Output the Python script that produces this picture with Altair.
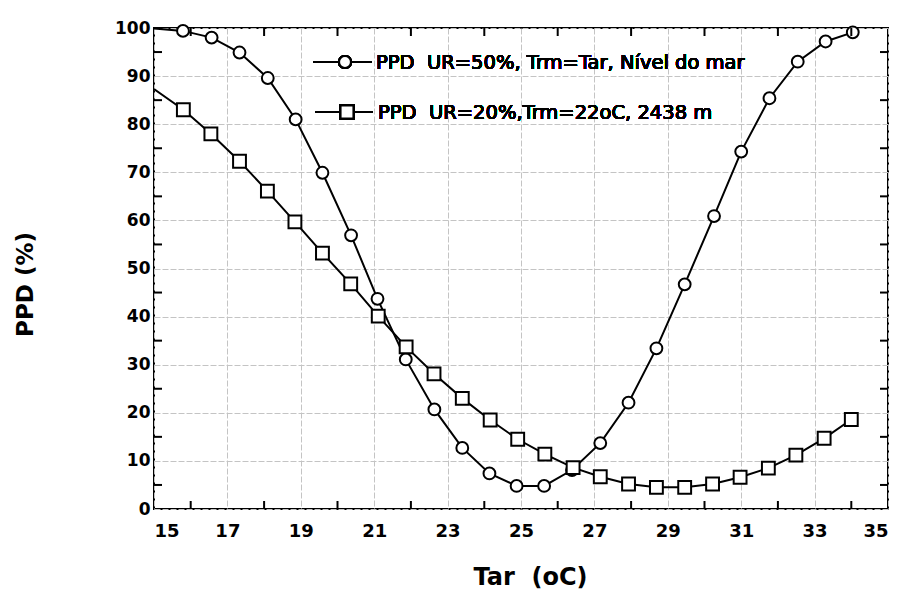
import altair as alt
import pandas as pd

# --- data ---
circ_x = [15.0, 15.79, 16.57, 17.33, 18.10, 18.86, 19.59, 20.37, 21.09, 21.86, 22.64, 23.40, 24.14,
          24.88, 25.63, 26.39, 27.16, 27.93, 28.69, 29.46, 30.26, 31.00, 31.77, 32.54, 33.30, 34.04]
circ_y = [99.9, 99.4, 98.0, 94.9, 89.6, 81.0, 69.9, 56.9, 43.7, 31.1, 20.7, 12.7, 7.4,
          4.8, 4.8, 8.1, 13.7, 22.1, 33.4, 46.7, 60.9, 74.3, 85.4, 93.0, 97.2, 99.1]
circ_marker = [False] + [True] * 25

sq_x = [15.0, 15.80, 16.55, 17.33, 18.09, 18.84, 19.59, 20.36, 21.11, 21.87, 22.63, 23.40, 24.16,
        24.91, 25.65, 26.42, 27.16, 27.93, 28.69, 29.46, 30.22, 30.97, 31.74, 32.49, 33.26, 34.00]
sq_y = [87.3, 83.0, 78.0, 72.3, 66.1, 59.7, 53.2, 46.8, 40.1, 33.7, 28.1, 23.0, 18.5,
        14.5, 11.4, 8.6, 6.7, 5.2, 4.5, 4.5, 5.2, 6.6, 8.5, 11.2, 14.7, 18.6]
sq_marker = [False] + [True] * 25

legend_labels = ["PPD\u00a0\u00a0UR=50%, Trm=Tar, Nível do mar",
                 "PPD\u00a0\u00a0UR=20%,Trm=22oC, 2438 m"]

x_major = [15, 17, 19, 21, 23, 25, 27, 29, 31, 33, 35]
x_minor = [16, 18, 20, 22, 24, 26, 28, 30, 32, 34]
y_major = [0, 10, 20, 30, 40, 50, 60, 70, 80, 90, 100]
y_minor = [5, 15, 25, 35, 45, 55, 65, 75, 85, 95]

W, H = 734, 481

circ = pd.DataFrame({"x": circ_x, "y": circ_y, "m": circ_marker})
sq = pd.DataFrame({"x": sq_x, "y": sq_y, "m": sq_marker})
xm = pd.DataFrame({"x": x_minor})
ym = pd.DataFrame({"y": y_minor})

xs = alt.Scale(domain=[15, 35], nice=False, zero=False)
ys = alt.Scale(domain=[0, 100], nice=False)

GRID = "#c4c4c4"

xaxis = alt.Axis(values=x_major, grid=True, ticks=False, domain=False,
                 labelFont="DejaVu Sans", labelFontWeight="bold", labelFontSize=18,
                 labelPadding=13, labelColor="black",
                 title="Tar\u00a0 (oC)", titleFont="DejaVu Sans", titleFontWeight="bold",
                 titleFontSize=24, titleColor="black", titleX=376, titleY=68,
                 titleBaseline="middle", titleAlign="center",
                 gridColor=GRID, gridWidth=1, gridDash=[6, 2])
yaxis = alt.Axis(values=y_major, grid=True, ticks=False, domain=False,
                 labelFont="DejaVu Sans", labelFontWeight="bold", labelFontSize=17,
                 labelPadding=4, labelColor="black",
                 title="PPD\u00a0(%)", titleFont="DejaVu Sans", titleFontWeight="bold",
                 titleFontSize=23, titleColor="black", titleX=-129, titleY=256,
                 titleBaseline="middle", titleAlign="center", titleAngle=270,
                 gridColor=GRID, gridWidth=1, gridDash=[6, 2])

base_c = alt.Chart(circ)
base_s = alt.Chart(sq)

line_c = base_c.mark_line(color="black", strokeWidth=2, clip=True).encode(
    x=alt.X("x:Q", scale=xs, axis=xaxis), y=alt.Y("y:Q", scale=ys, axis=yaxis))
pts_c = base_c.transform_filter("datum.m").mark_point(
    shape="circle", size=140, filled=True, fill="white", stroke="black", strokeWidth=2, opacity=1
).encode(x=alt.X("x:Q", scale=xs), y=alt.Y("y:Q", scale=ys))
line_s = base_s.mark_line(color="black", strokeWidth=2, clip=True).encode(
    x=alt.X("x:Q", scale=xs), y=alt.Y("y:Q", scale=ys))
pts_s = base_s.transform_filter("datum.m").mark_point(
    shape="square", size=165, filled=True, fill="white", stroke="black", strokeWidth=2, opacity=1
).encode(x=alt.X("x:Q", scale=xs), y=alt.Y("y:Q", scale=ys))

# inward minor ticks on all four sides
tk_b = alt.Chart(xm).mark_rule(color="black", strokeWidth=2).encode(
    x=alt.X("x:Q", scale=xs), y=alt.value(H), y2=alt.value(H - 8))
tk_t = alt.Chart(xm).mark_rule(color="black", strokeWidth=2).encode(
    x=alt.X("x:Q", scale=xs), y=alt.value(0), y2=alt.value(8))
tk_l = alt.Chart(ym).mark_rule(color="black", strokeWidth=2).encode(
    y=alt.Y("y:Q", scale=ys), x=alt.value(0), x2=alt.value(8))
tk_r = alt.Chart(ym).mark_rule(color="black", strokeWidth=2).encode(
    y=alt.Y("y:Q", scale=ys), x=alt.value(W - 8), x2=alt.value(W))

# manual legend
leg1_line = alt.Chart(circ).mark_rule(color="black", strokeWidth=2).encode(
    x=alt.value(159), x2=alt.value(218), y=alt.value(34))
leg1_pt = alt.Chart(circ).mark_point(shape="circle", size=140, filled=True, fill="white",
                                     stroke="black", strokeWidth=2, opacity=1).encode(
    x=alt.value(191), y=alt.value(34))
leg1_txt = alt.Chart(circ).mark_text(align="left", baseline="middle", font="DejaVu Sans",
                                     fontSize=19.5, color="black").encode(
    x=alt.value(222), y=alt.value(35), text=alt.value(legend_labels[0]))
leg2_line = alt.Chart(sq).mark_rule(color="black", strokeWidth=2).encode(
    x=alt.value(161), x2=alt.value(219), y=alt.value(84))
leg2_pt = alt.Chart(sq).mark_point(shape="square", size=165, filled=True, fill="white",
                                   stroke="black", strokeWidth=2, opacity=1).encode(
    x=alt.value(193), y=alt.value(84))
leg2_txt = alt.Chart(sq).mark_text(align="left", baseline="middle", font="DejaVu Sans",
                                   fontSize=19.5, color="black").encode(
    x=alt.value(224), y=alt.value(85), text=alt.value(legend_labels[1]))

chart = alt.layer(
    line_c, pts_c, line_s, pts_s, tk_b, tk_t, tk_l, tk_r,
    leg1_line, leg1_pt, leg1_txt, leg2_line, leg2_pt, leg2_txt
).properties(
    width=W, height=H,
    autosize=alt.AutoSizeParams(type="none"),
    padding={"left": 154, "top": 28, "right": 11, "bottom": 84},
    background="white",
).configure_view(stroke="black", strokeWidth=2)

chart.save("out.html", embed_options={"renderer": "svg", "actions": False})
